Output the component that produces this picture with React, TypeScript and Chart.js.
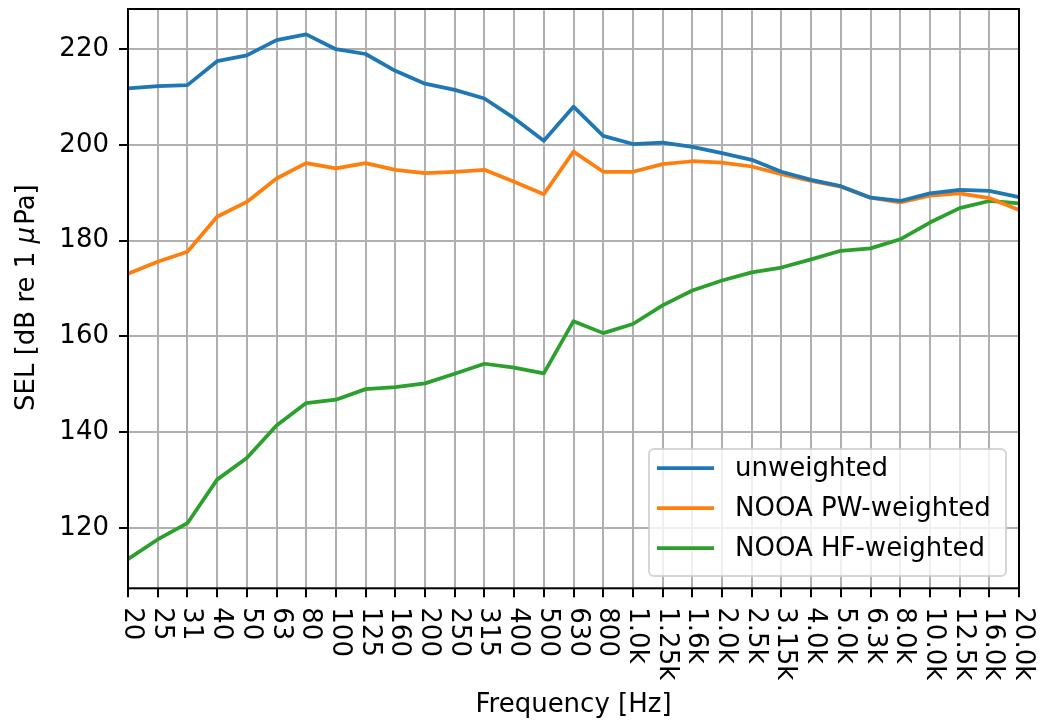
import React, { useEffect, useRef } from "react";
import { Chart, registerables } from "chart.js";

Chart.register(...registerables);

const categories = ["20","25","31","40","50","63","80","100","125","160","200","250","315","400","500","630","800","1.0k","1.25k","1.6k","2.0k","2.5k","3.15k","4.0k","5.0k","6.3k","8.0k","10.0k","12.5k","16.0k","20.0k"];

const unweighted = [211.8,212.3,212.5,217.5,218.7,221.9,223.1,220.0,219.0,215.5,212.8,211.5,209.7,205.6,200.9,208.0,201.9,200.2,200.5,199.6,198.3,196.9,194.4,192.7,191.4,189.0,188.3,189.9,190.6,190.4,189.1];
const pwWeighted = [173.1,175.6,177.7,185.0,188.1,193.0,196.2,195.1,196.2,194.8,194.1,194.4,194.8,192.3,189.7,198.6,194.4,194.4,196.0,196.6,196.3,195.5,193.9,192.5,191.3,189.0,188.0,189.4,189.9,188.9,186.4];
const hfWeighted = [113.5,117.6,121.0,130.1,134.6,141.4,146.1,146.8,149.0,149.4,150.2,152.2,154.3,153.5,152.3,163.2,160.7,162.6,166.5,169.6,171.7,173.4,174.4,176.1,177.9,178.4,180.3,183.8,186.8,188.3,187.8];

const yTicks = [120, 140, 160, 180, 200, 220];
const seriesNames = ["unweighted", "NOOA PW-weighted", "NOOA HF-weighted"];
const seriesColors = ["#1f77b4", "#ff7f0e", "#2ca02c"];

const FONT = '"DejaVu Sans", sans-serif';
const FS = 26;

const overlay = {
  id: "overlay",
  afterDatasetsDraw(chart: any) {
    const ctx = chart.ctx;
    const { left, right, top, bottom } = chart.chartArea;
    ctx.save();
    ctx.strokeStyle = "#000";
    ctx.lineWidth = 2;
    ctx.strokeRect(left, top, right - left, bottom - top);
    ctx.restore();
  },
  afterDraw(chart: any) {
    const ctx = chart.ctx;
    const { left, right, top, bottom } = chart.chartArea;
    const xs = chart.scales.x;
    ctx.save();
    ctx.fillStyle = "#000";
    ctx.font = `${FS}px ${FONT}`;
    // x tick labels rotated clockwise
    categories.forEach((lab, i) => {
      const x = xs.getPixelForValue(i);
      ctx.save();
      ctx.translate(x - 3, bottom + 19);
      ctx.rotate(Math.PI / 2);
      ctx.textAlign = "left";
      ctx.textBaseline = "alphabetic";
      ctx.fillText(lab, 0, 0);
      ctx.restore();
    });
    // x title
    ctx.textAlign = "center";
    ctx.textBaseline = "middle";
    ctx.fillText("Frequency [Hz]", (left + right) / 2, 705);
    // y title with italic mu
    const parts = [
      { t: "SEL [dB re 1 ", f: `${FS}px ${FONT}` },
      { t: "\u03bc", f: `italic ${FS}px ${FONT}` },
      { t: "Pa]", f: `${FS}px ${FONT}` },
    ];
    let total = 0;
    parts.forEach((p) => { ctx.font = p.f; total += ctx.measureText(p.t).width; });
    ctx.save();
    ctx.translate(34, (top + bottom) / 2);
    ctx.rotate(-Math.PI / 2);
    ctx.textAlign = "left";
    ctx.textBaseline = "alphabetic";
    let cx = -total / 2;
    parts.forEach((p) => { ctx.font = p.f; ctx.fillText(p.t, cx, 0); cx += ctx.measureText(p.t).width + (p.t === "\u03bc" ? 2 : 0); });
    ctx.restore();

    // legend
    const lx0 = 649, ly0 = 449, lx1 = 1006, ly1 = 576, r = 5;
    ctx.beginPath();
    ctx.moveTo(lx0 + r, ly0);
    ctx.lineTo(lx1 - r, ly0);
    ctx.arcTo(lx1, ly0, lx1, ly0 + r, r);
    ctx.lineTo(lx1, ly1 - r);
    ctx.arcTo(lx1, ly1, lx1 - r, ly1, r);
    ctx.lineTo(lx0 + r, ly1);
    ctx.arcTo(lx0, ly1, lx0, ly1 - r, r);
    ctx.lineTo(lx0, ly0 + r);
    ctx.arcTo(lx0, ly0, lx0 + r, ly0, r);
    ctx.closePath();
    ctx.fillStyle = "rgba(255,255,255,0.8)";
    ctx.fill();
    ctx.strokeStyle = "rgba(204,204,204,0.8)";
    ctx.lineWidth = 2;
    ctx.stroke();
    ctx.font = `${FS}px ${FONT}`;
    ctx.textAlign = "left";
    ctx.textBaseline = "middle";
    seriesNames.forEach((name, i) => {
      const y = 468 + i * 40;
      ctx.strokeStyle = seriesColors[i];
      ctx.lineWidth = 3.75;
      ctx.lineCap = "butt";
      ctx.beginPath();
      ctx.moveTo(657, y);
      ctx.lineTo(714, y);
      ctx.stroke();
      ctx.fillStyle = "#000";
      ctx.fillText(name, 735, y + 1);
    });
    ctx.restore();
  },
};

export default function App() {
  const ref = useRef<HTMLCanvasElement>(null);
  useEffect(() => {
    if (!ref.current) return;
    const series = [unweighted, pwWeighted, hfWeighted];
    const chart = new Chart(ref.current, {
      type: "line",
      data: {
        labels: categories,
        datasets: series.map((d, i) => ({
          label: seriesNames[i],
          data: d,
          borderColor: seriesColors[i],
          backgroundColor: seriesColors[i],
          borderWidth: 3.75,
          pointRadius: 0,
          tension: 0,
          borderJoinStyle: "round",
          fill: false,
        })),
      },
      options: {
        responsive: false,
        animation: false,
        layout: { padding: { top: 9, right: 23, left: 0, bottom: 0 } },
        plugins: { legend: { display: false }, tooltip: { enabled: false } },
        scales: {
          x: {
            type: "category",
            offset: false,
            border: { display: false },
            grid: { color: "#b0b0b0", lineWidth: 2, tickColor: "#000", tickLength: 9, tickWidth: 2, drawTicks: true },
            ticks: { display: false, autoSkip: false },
            afterFit: (s: any) => { s.height = 135.7; s.paddingLeft = 0; s.paddingRight = 0; },
          },
          y: {
            type: "linear",
            min: 107.4,
            max: 228.4,
            border: { display: false },
            grid: { color: "#b0b0b0", lineWidth: 2, tickColor: "#000", tickLength: 9, tickWidth: 2 },
            ticks: { color: "#000", font: { family: "DejaVu Sans", size: FS }, padding: 10 },
            afterBuildTicks: (s: any) => { s.ticks = yTicks.map((v) => ({ value: v })); },
            afterFit: (s: any) => { s.width = 128; s.paddingTop = 0; s.paddingBottom = 0; },
          },
        },
      },
      plugins: [overlay],
    });
    return () => chart.destroy();
  }, []);
  return (
    <div style={{ position: "absolute", left: 0, top: 0, width: 1042, height: 724, background: "#fff" }}>
      <canvas ref={ref} width={1042} height={724} style={{ width: 1042, height: 724 }} />
    </div>
  );
}
